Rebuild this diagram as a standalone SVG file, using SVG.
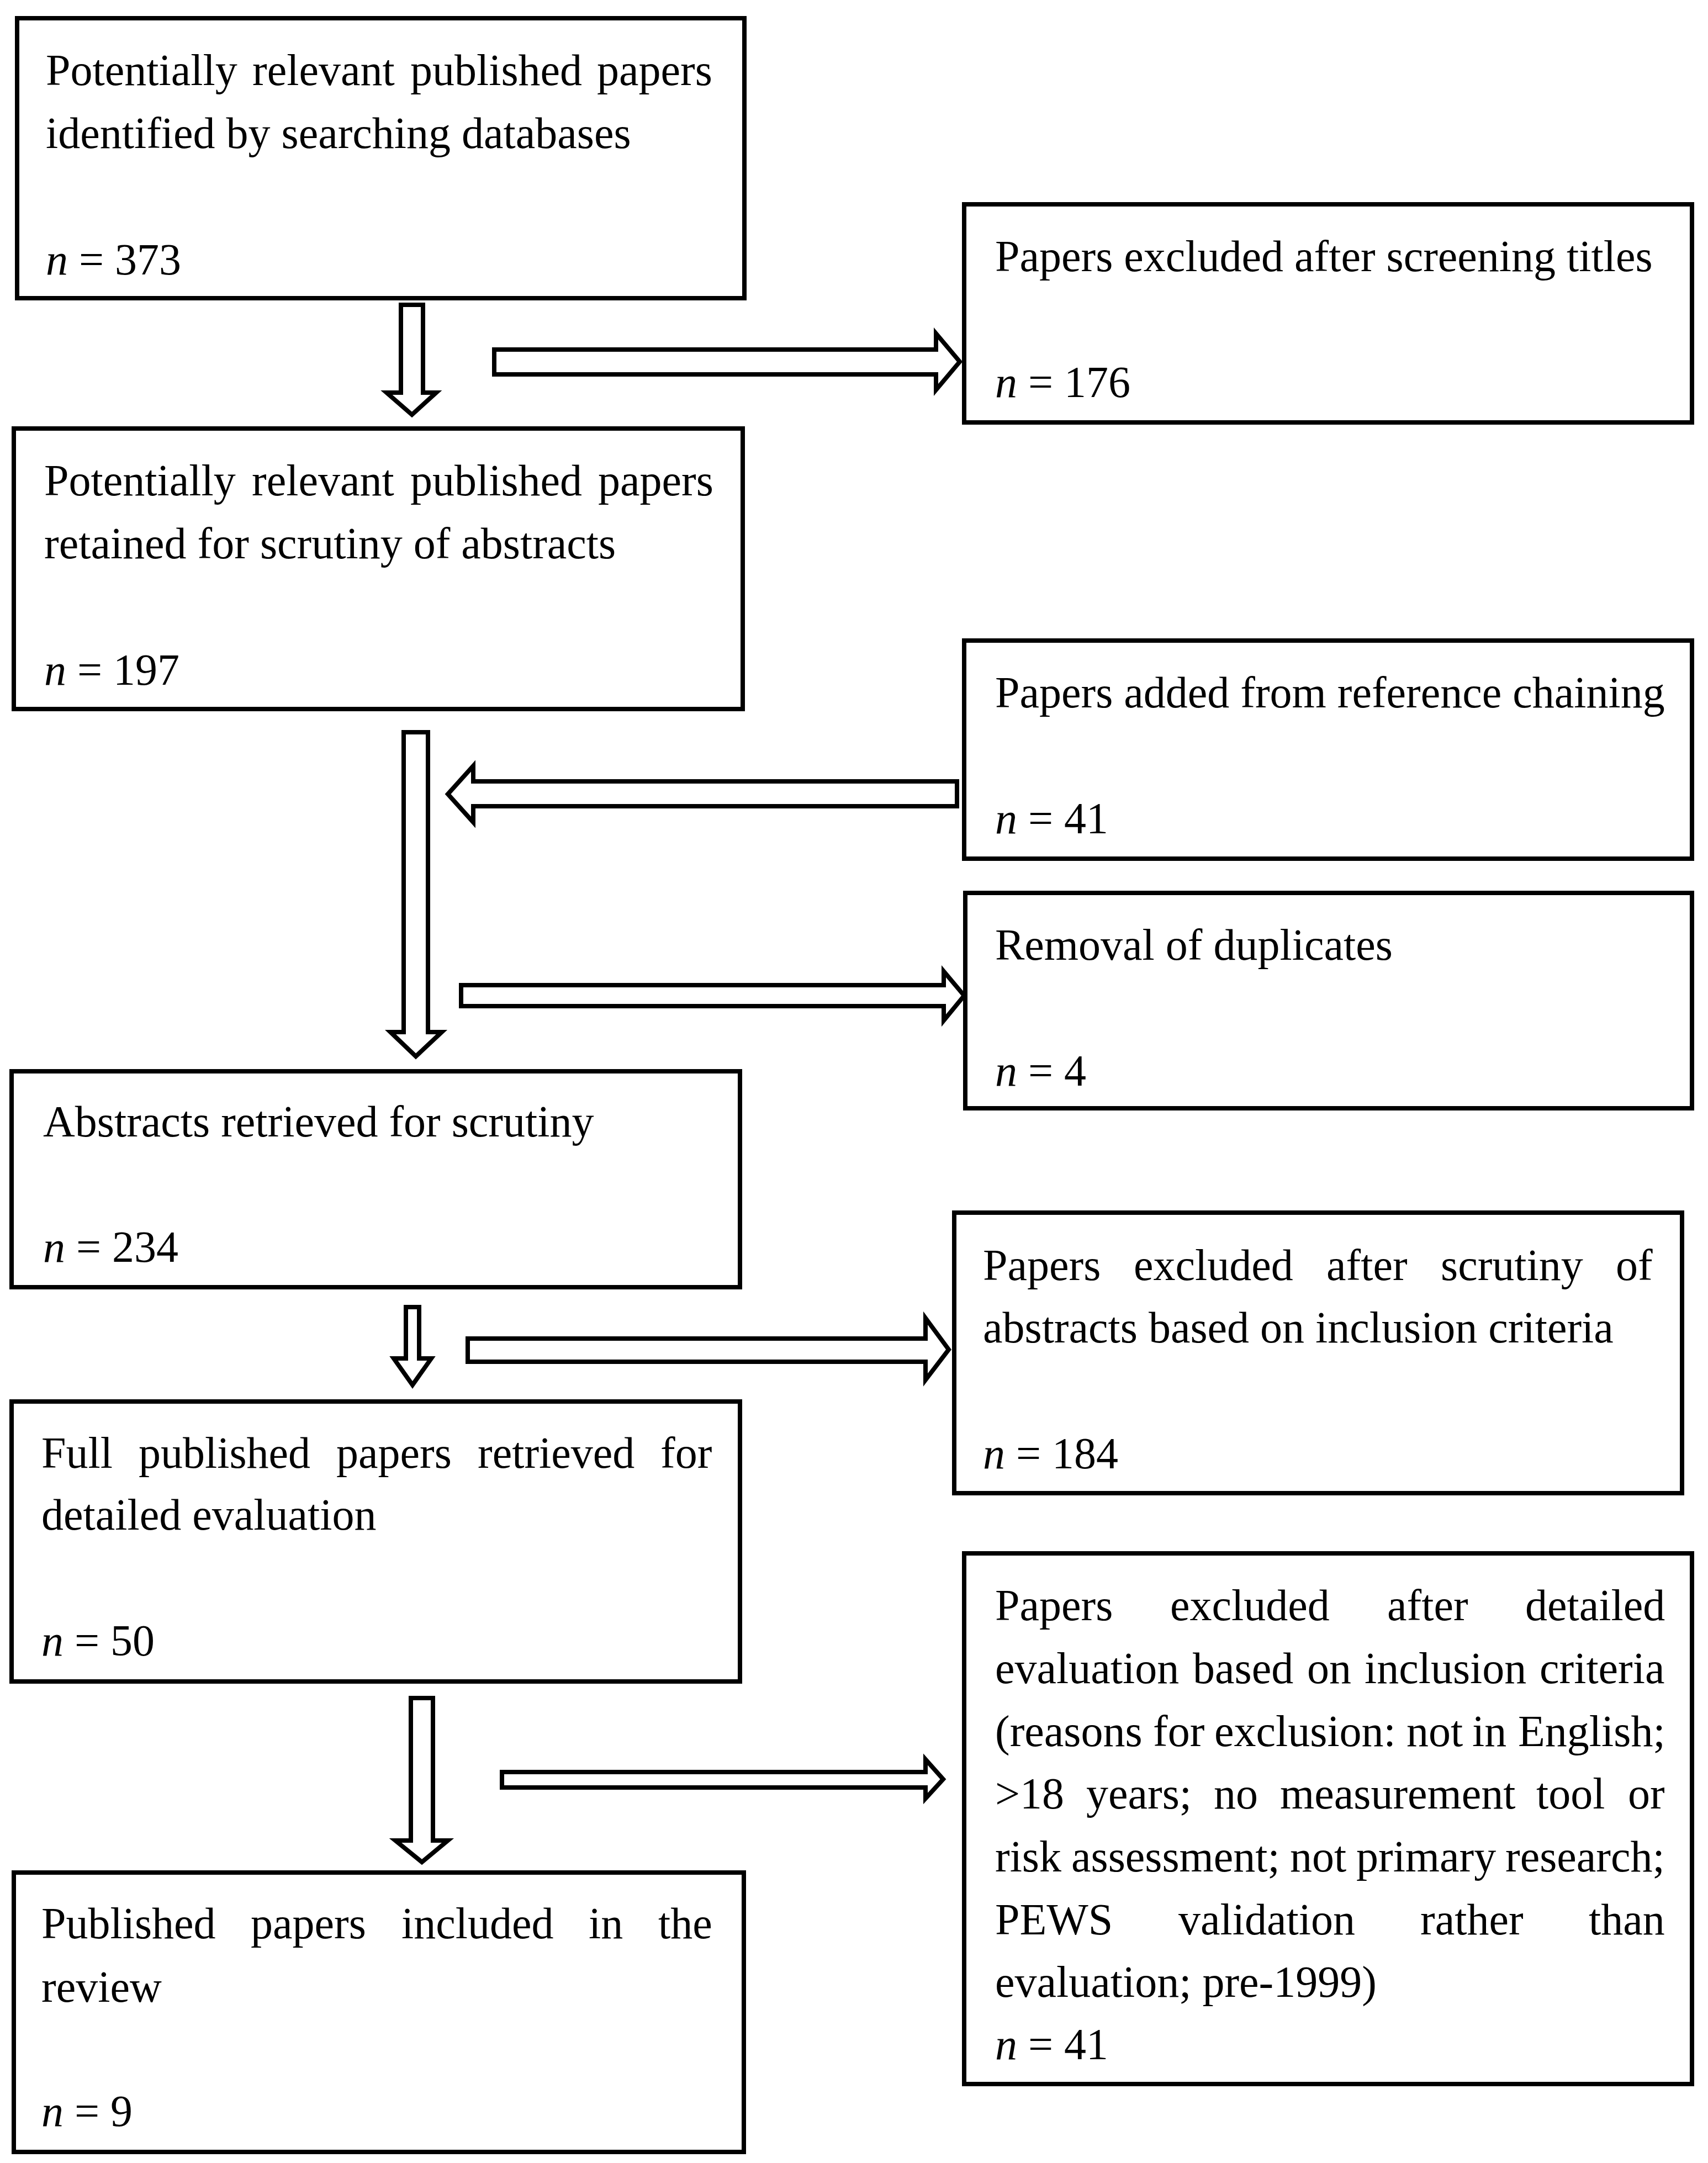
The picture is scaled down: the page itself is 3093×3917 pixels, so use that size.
<svg xmlns="http://www.w3.org/2000/svg" width="3093" height="3917" viewBox="0 0 3093 3917">
<style>
.box{fill:#fff;stroke:#000;stroke-width:8}
.arr{fill:#fff;stroke:#000;stroke-width:8;stroke-linejoin:miter;stroke-miterlimit:10}
text{font-family:"Liberation Serif","Times New Roman",serif;font-size:80px;fill:#000}
.i{font-style:italic}
</style>
<rect width="3093" height="3917" fill="#fff"/>
<g id="connectors">
<polygon class="arr" points="726,552 766,552 766,711 790,711 746,751 700,711 726,711"/>
<polygon class="arr" points="895,633 1695,633 1695,604 1738,655 1695,706 1695,678 895,678"/>
<polygon class="arr" points="731,1326 775,1326 775,1869 800,1869 753,1913 707,1869 731,1869"/>
<polygon class="arr" points="1733,1415 857,1415 857,1387 811,1438 857,1489 857,1460 1733,1460"/>
<polygon class="arr" points="835,1784 1709,1784 1709,1759 1746,1803 1709,1848 1709,1822 835,1822"/>
<polygon class="arr" points="735,2367 759,2367 759,2460 781,2460 747,2508 713,2460 735,2460"/>
<polygon class="arr" points="847,2424 1676,2424 1676,2387 1718,2444 1676,2499 1676,2466 847,2466"/>
<polygon class="arr" points="744,3075 784,3075 784,3333 811,3333 764,3372 716,3333 744,3333"/>
<polygon class="arr" points="909,3209 1676,3209 1676,3186 1708,3222 1676,3257 1676,3237 909,3237"/>
</g>
<g id="node-identified">
<rect class="box" x="31" y="33" width="1317" height="507"/>
<text y="154"><tspan x="83">Potentially</tspan><tspan x="457">relevant</tspan><tspan x="743">published</tspan><tspan x="1081">papers</tspan></text>
<text x="83" y="268">identified by searching databases</text>
<text x="83" y="497"><tspan class="i">n</tspan> = 373</text>
</g>
<g id="node-retained">
<rect class="box" x="25" y="776" width="1320" height="508"/>
<text y="897"><tspan x="80">Potentially</tspan><tspan x="456">relevant</tspan><tspan x="743">published</tspan><tspan x="1083">papers</tspan></text>
<text x="80" y="1011">retained for scrutiny of abstracts</text>
<text x="80" y="1240"><tspan class="i">n</tspan> = 197</text>
</g>
<g id="node-abstracts">
<rect class="box" x="21" y="1940" width="1319" height="391"/>
<text x="78" y="2058">Abstracts retrieved for scrutiny</text>
<text x="78" y="2285"><tspan class="i">n</tspan> = 234</text>
</g>
<g id="node-full">
<rect class="box" x="21" y="2538" width="1319" height="507"/>
<text y="2658"><tspan x="75">Full</tspan><tspan x="251">published</tspan><tspan x="609">papers</tspan><tspan x="865">retrieved</tspan><tspan x="1196">for</tspan></text>
<text x="75" y="2770">detailed evaluation</text>
<text x="75" y="2998"><tspan class="i">n</tspan> = 50</text>
</g>
<g id="node-included">
<rect class="box" x="25" y="3391" width="1322" height="506"/>
<text y="3510"><tspan x="75">Published</tspan><tspan x="454">papers</tspan><tspan x="727">included</tspan><tspan x="1066">in</tspan><tspan x="1192">the</tspan></text>
<text x="75" y="3625">review</text>
<text x="75" y="3850"><tspan class="i">n</tspan> = 9</text>
</g>
<g id="node-excl-titles">
<rect class="box" x="1746" y="370" width="1318" height="395"/>
<text x="1802" y="491">Papers excluded after screening titles</text>
<text x="1802" y="719"><tspan class="i">n</tspan> = 176</text>
</g>
<g id="node-added">
<rect class="box" x="1746" y="1160" width="1318" height="395"/>
<text x="1802" y="1281">Papers added from reference chaining</text>
<text x="1802" y="1509"><tspan class="i">n</tspan> = 41</text>
</g>
<g id="node-duplicates">
<rect class="box" x="1748" y="1617" width="1316" height="390"/>
<text x="1802" y="1738">Removal of duplicates</text>
<text x="1802" y="1966"><tspan class="i">n</tspan> = 4</text>
</g>
<g id="node-excl-abstracts">
<rect class="box" x="1728" y="2196" width="1318" height="508"/>
<text y="2318"><tspan x="1780">Papers</tspan><tspan x="2053">excluded</tspan><tspan x="2402">after</tspan><tspan x="2609">scrutiny</tspan><tspan x="2926">of</tspan></text>
<text x="1780" y="2431">abstracts based on inclusion criteria</text>
<text x="1780" y="2659"><tspan class="i">n</tspan> = 184</text>
</g>
<g id="node-excl-detailed">
<rect class="box" x="1746" y="2813" width="1318" height="961"/>
<text y="2934"><tspan x="1802">Papers</tspan><tspan x="2119">excluded</tspan><tspan x="2512">after</tspan><tspan x="2762">detailed</tspan></text>
<text y="3048"><tspan x="1802">evaluation</tspan><tspan x="2160">based</tspan><tspan x="2367">on</tspan><tspan x="2471">inclusion</tspan><tspan x="2788">criteria</tspan></text>
<text y="3162"><tspan x="1802">(reasons</tspan><tspan x="2088">for</tspan><tspan x="2199">exclusion:</tspan><tspan x="2547">not</tspan><tspan x="2666">in</tspan><tspan x="2749">English;</tspan></text>
<text y="3275"><tspan x="1802">&gt;18</tspan><tspan x="1967">years;</tspan><tspan x="2198">no</tspan><tspan x="2318">measurement</tspan><tspan x="2782">tool</tspan><tspan x="2948">or</tspan></text>
<text y="3389"><tspan x="1802">risk</tspan><tspan x="1940">assessment;</tspan><tspan x="2336">not</tspan><tspan x="2456">primary</tspan><tspan x="2726">research;</tspan></text>
<text y="3503"><tspan x="1802">PEWS</tspan><tspan x="2134">validation</tspan><tspan x="2572">rather</tspan><tspan x="2877">than</tspan></text>
<text x="1802" y="3616">evaluation; pre-1999)</text>
<text x="1802" y="3729"><tspan class="i">n</tspan> = 41</text>
</g>
</svg>
